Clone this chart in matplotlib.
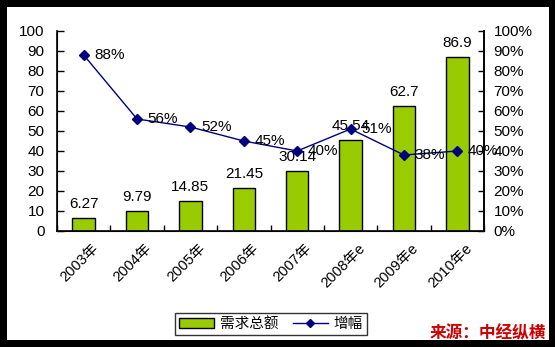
import numpy as np
import matplotlib.pyplot as plt
from matplotlib.patches import Rectangle
from matplotlib.lines import Line2D
from matplotlib.patches import Patch

plt.rcParams['font.family'] = ['Liberation Sans', 'Noto Sans CJK SC', 'DejaVu Sans']

years = ['2003年', '2004年', '2005年', '2006年', '2007年', '2008年e', '2009年e', '2010年e']
demand = [6.27, 9.79, 14.85, 21.45, 30.14, 45.54, 62.7, 86.9]
growth = [88, 56, 52, 45, 40, 51, 38, 40]

W, H = 555, 347
fig = plt.figure(figsize=(W / 100, H / 100), dpi=100)
fig.patch.set_facecolor('black')
# white inner panel
fig.add_artist(Rectangle((7 / W, 1 - 340 / H), (549 - 7) / W, (340 - 7) / H,
                         transform=fig.transFigure, facecolor='white',
                         edgecolor='none', zorder=0))

ax = fig.add_axes([57 / W, 1 - 231 / H, (484 - 57) / W, (231 - 31) / H])
ax.set_facecolor('none')
x = np.arange(len(years))
ax.bar(x, demand, width=0.42, color='#99cc00', edgecolor='black', linewidth=1, zorder=2)
ax.set_xlim(-0.5, len(years) - 0.5)
ax.set_ylim(0, 100)
ax.set_yticks(range(0, 101, 10))
ax.set_xticks(np.arange(len(years) + 1) - 0.5)
ax.set_xticklabels([])
ax.tick_params(axis='x', direction='in', length=4, width=1)
ax.tick_params(axis='y', direction='in', length=5, width=1, labelsize=11, pad=9)
ax.spines['top'].set_visible(False)
for s in ['left', 'bottom', 'right']:
    ax.spines[s].set_linewidth(1.2)

for i, v in enumerate(demand):
    ax.text(i, v + 3.5, f'{v:g}', ha='center', va='bottom', fontsize=11, color='black', zorder=4)

for i, lab in enumerate(years):
    ax.text(i + 0.14, -5, lab, rotation=45, ha='right', va='top', fontsize=10.5,
            rotation_mode='anchor', color='black')

ax2 = ax.twinx()
ax2.plot(x, growth, color='#000080', marker='D', markersize=5, linewidth=1, zorder=5)
ax2.set_ylim(0, 100)
ax2.set_yticks(range(0, 101, 10))
ax2.set_yticklabels([f'{t}%' for t in range(0, 101, 10)])
ax2.tick_params(axis='y', direction='in', length=4, width=1, labelsize=11, pad=7)
ax2.spines['top'].set_visible(False)
ax2.spines['right'].set_linewidth(1.2)
for i, g in enumerate(growth):
    ax2.text(i + 0.2, g, f'{g}%', ha='left', va='center', fontsize=11, color='black', zorder=6)

handles = [Patch(facecolor='#99cc00', edgecolor='black', label='需求总额'),
           Line2D([0], [0], color='#000080', marker='D', markersize=4, linewidth=1, label='增幅')]
leg = fig.legend(handles=handles, loc='center', bbox_to_anchor=(271 / W, 1 - 324 / H),
                 ncol=2, frameon=True, fancybox=False, edgecolor='black', fontsize=10.5,
                 handlelength=2.4, columnspacing=1.0, borderpad=0.3, handletextpad=0.4)
leg.get_frame().set_linewidth(1)

fig.text(546 / W, 1 - 333 / H, '来源：中经纵横', ha='right', va='center', fontsize=12,
         color='#cc0000', fontweight='bold', style='italic', family=['Noto Sans CJK SC'])

fig.savefig('out.png', dpi=100, facecolor=fig.get_facecolor())
